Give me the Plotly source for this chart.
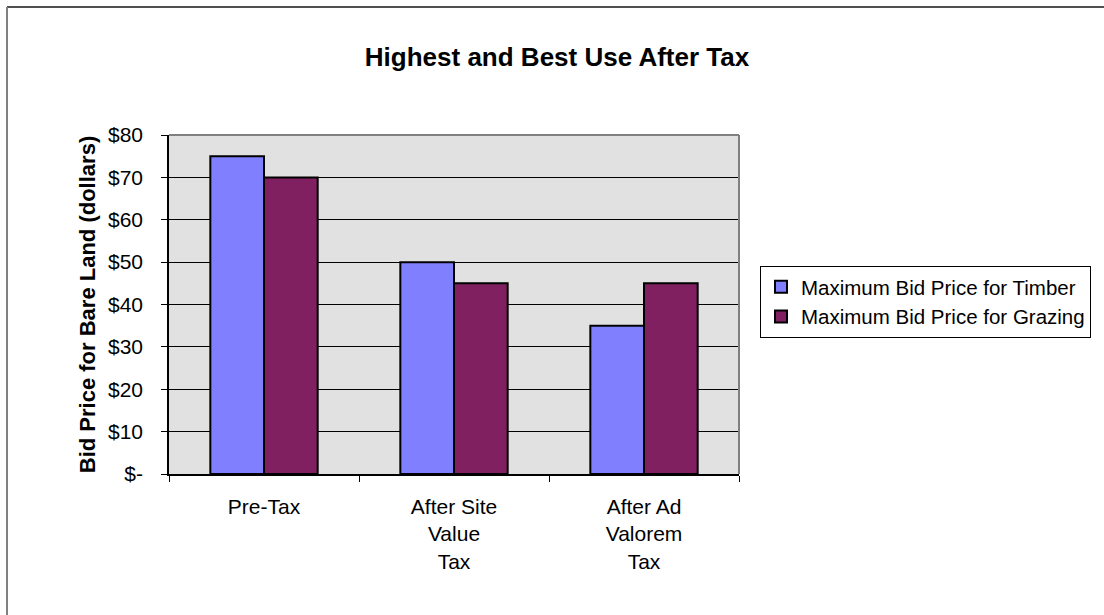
import plotly.graph_objects as go

categories = ["Pre-Tax", "After Site Value Tax", "After Ad Valorem Tax"]
category_labels = ["Pre-Tax", "After Site<br>Value<br>Tax", "After Ad<br>Valorem<br>Tax"]
timber = [75, 50, 35]
grazing = [70, 45, 45]
series_names = ["Maximum Bid Price for Timber", "Maximum Bid Price for Grazing"]
y_tickvals = [0, 10, 20, 30, 40, 50, 60, 70, 80]
y_ticktext = ["$-", "$10", "$20", "$30", "$40", "$50", "$60", "$70", "$80"]

W, H = 1104, 615
L, R, T, B = 169, 365, 135, 141
PW, PH = W - L - R, H - T - B
FONT = "Liberation Sans, Arial, sans-serif"

fig = go.Figure()
fig.add_trace(go.Bar(x=categories, y=timber, name=series_names[0],
                     marker=dict(color="#8080ff", line=dict(color="black", width=2))))
fig.add_trace(go.Bar(x=categories, y=grazing, name=series_names[1],
                     marker=dict(color="#802060", line=dict(color="black", width=2))))

fig.update_layout(
    width=W, height=H,
    margin=dict(l=L, r=R, t=T, b=B, pad=0, autoexpand=False),
    paper_bgcolor="white",
    plot_bgcolor="#e1e1e1",
    barmode="group",
    bargap=0.435,
    bargroupgap=0,
    font=dict(family=FONT, size=21, color="black"),
    title=dict(text="<b>Highest and Best Use After Tax</b>", x=557 / W, xanchor="center",
               y=1 - 57 / H, yanchor="middle", font=dict(size=26, family=FONT, color="black")),
    showlegend=True,
    legend=dict(x=(760 - L) / PW, y=1 - (266 - T) / PH, xanchor="left", yanchor="top",
                bordercolor="black", borderwidth=1, bgcolor="white",
                font=dict(size=20.5, family=FONT, color="black"), tracegroupgap=0),
    xaxis=dict(type="category", tickmode="array", tickvals=categories, ticktext=category_labels,
               tickson="boundaries", ticks="outside", ticklen=6, tickcolor="black",
               showline=True, linecolor="black", linewidth=1.5, showgrid=False,
               tickfont=dict(size=21, family=FONT), ticklabelstandoff=13),
    yaxis=dict(range=[0, 80], tickmode="array", tickvals=y_tickvals, ticktext=y_ticktext,
               ticks="outside", ticklen=6, tickcolor="black",
               showline=True, linecolor="black", linewidth=1.5,
               showgrid=True, gridcolor="black", gridwidth=1, zeroline=False,
               tickfont=dict(size=21, family=FONT), ticklabelstandoff=14,
               title=dict(text="<b>Bid Price for Bare Land (dollars)</b>",
                          font=dict(size=22, family=FONT), standoff=6)),
)

# gray plot-area border on top and right
fig.add_shape(type="line", xref="paper", yref="paper", x0=0, x1=1, y0=1, y1=1,
              line=dict(color="#808080", width=2), layer="above")
fig.add_shape(type="line", xref="paper", yref="paper", x0=1, x1=1, y0=0, y1=1,
              line=dict(color="#808080", width=2), layer="above")

# outer chart border (top and left visible)
fig.add_shape(type="line", xref="paper", yref="paper",
              x0=-(L - 7) / PW, x1=(W - L) / PW + 0.01,
              y0=1 + (T - 7) / PH, y1=1 + (T - 7) / PH,
              line=dict(color="#505050", width=2), layer="above")
fig.add_shape(type="line", xref="paper", yref="paper",
              x0=-(L - 7) / PW, x1=-(L - 7) / PW,
              y0=1 + (T - 7) / PH, y1=-(B + 5) / PH,
              line=dict(color="#808080", width=2), layer="above")

fig.write_html("out.html")
